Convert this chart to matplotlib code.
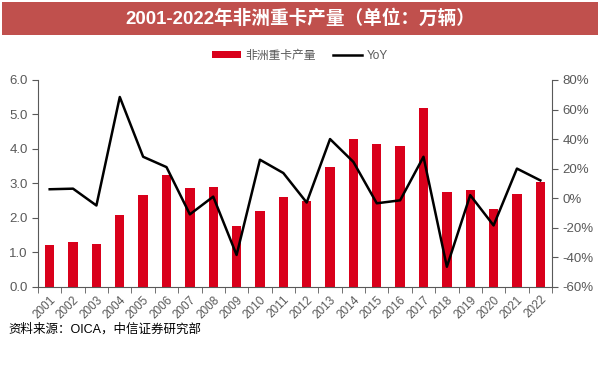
import matplotlib
matplotlib.use("Agg")
import matplotlib.pyplot as plt
import numpy as np
from matplotlib.patches import Rectangle
from matplotlib.ticker import FuncFormatter, MultipleLocator

plt.rcParams["font.family"] = ["Liberation Sans", "Noto Sans CJK SC", "DejaVu Sans"]

years = [str(y) for y in range(2001, 2023)]
output = [1.22, 1.30, 1.24, 2.08, 2.67, 3.23, 2.86, 2.89, 1.76, 2.21, 2.59, 2.48,
          3.48, 4.30, 4.15, 4.07, 5.20, 2.76, 2.80, 2.26, 2.70, 3.03]
yoy = [6.0, 6.4, -5.0, 68.5, 28.0, 21.0, -11.0, 1.0, -38.5, 26.0, 17.0, -3.0,
       40.0, 24.5, -3.5, -1.5, 28.0, -46.5, 2.0, -18.5, 20.0, 12.0]

RED = "#D9001B"
GRAY = "#595959"

fig = plt.figure(figsize=(6.0, 3.66), dpi=100)

# title bar
fig.patches.append(Rectangle((2 / 600, 1 - 35 / 366), 596 / 600, 33 / 366,
                             transform=fig.transFigure, facecolor="#C0504D",
                             edgecolor="none", zorder=0))
fig.text(0.5, 1 - 18.5 / 366, "2001-2022年非洲重卡产量（单位：万辆）",
         ha="center", va="center", color="white", fontsize=13.4, fontweight="bold")

ax = fig.add_axes([38 / 600, 1 - 286.7 / 366, 514 / 600, 206.7 / 366])
x = np.arange(len(years))
bars = ax.bar(x, output, width=0.4, color=RED, label="非洲重卡产量", zorder=2)
ax.set_xlim(-0.5, len(years) - 0.5)
ax.set_ylim(0, 6)
ax.yaxis.set_major_locator(MultipleLocator(1.0))
ax.yaxis.set_major_formatter(FuncFormatter(lambda v, p: f"{v:.1f}"))
ax.set_xticks(x)
ax.set_xticklabels(years, rotation=45, ha="right", rotation_mode="anchor",
                   fontsize=8.5, color=GRAY)
ax.set_xticks(np.arange(-0.5, len(years)), minor=True)
ax.tick_params(axis="x", which="major", length=0, pad=5)
ax.tick_params(axis="x", which="minor", length=4, direction="out", color=GRAY)
ax.tick_params(axis="y", labelsize=9.5, labelcolor=GRAY, length=4, color=GRAY)
for s in ["top", "right"]:
    ax.spines[s].set_visible(False)
for s in ["left", "bottom"]:
    ax.spines[s].set_color(GRAY)

ax2 = ax.twinx()
line, = ax2.plot(x, yoy, color="black", linewidth=1.8, label="YoY", zorder=3)
ax2.set_ylim(-60, 80)
ax2.yaxis.set_major_locator(MultipleLocator(20))
ax2.yaxis.set_major_formatter(FuncFormatter(lambda v, p: f"{v:.0f}%"))
ax2.tick_params(axis="y", labelsize=9.5, labelcolor=GRAY, length=4, color=GRAY)
for s in ["top", "left", "bottom"]:
    ax2.spines[s].set_visible(False)
ax2.spines["right"].set_color(GRAY)

fig.legend([bars, line], ["非洲重卡产量", "YoY"], loc="center",
           bbox_to_anchor=(0.5, 1 - 56 / 366), ncol=2, frameon=False,
           fontsize=8.5, handlelength=2.4, handleheight=0.5, columnspacing=1.5,
           handletextpad=0.4, labelcolor=GRAY)

fig.text(8 / 600, 1 - 329 / 366, "资料来源：OICA，中信证券研究部", ha="left",
         va="center", fontsize=9, color="black")

fig.savefig("out.png", dpi=100)
